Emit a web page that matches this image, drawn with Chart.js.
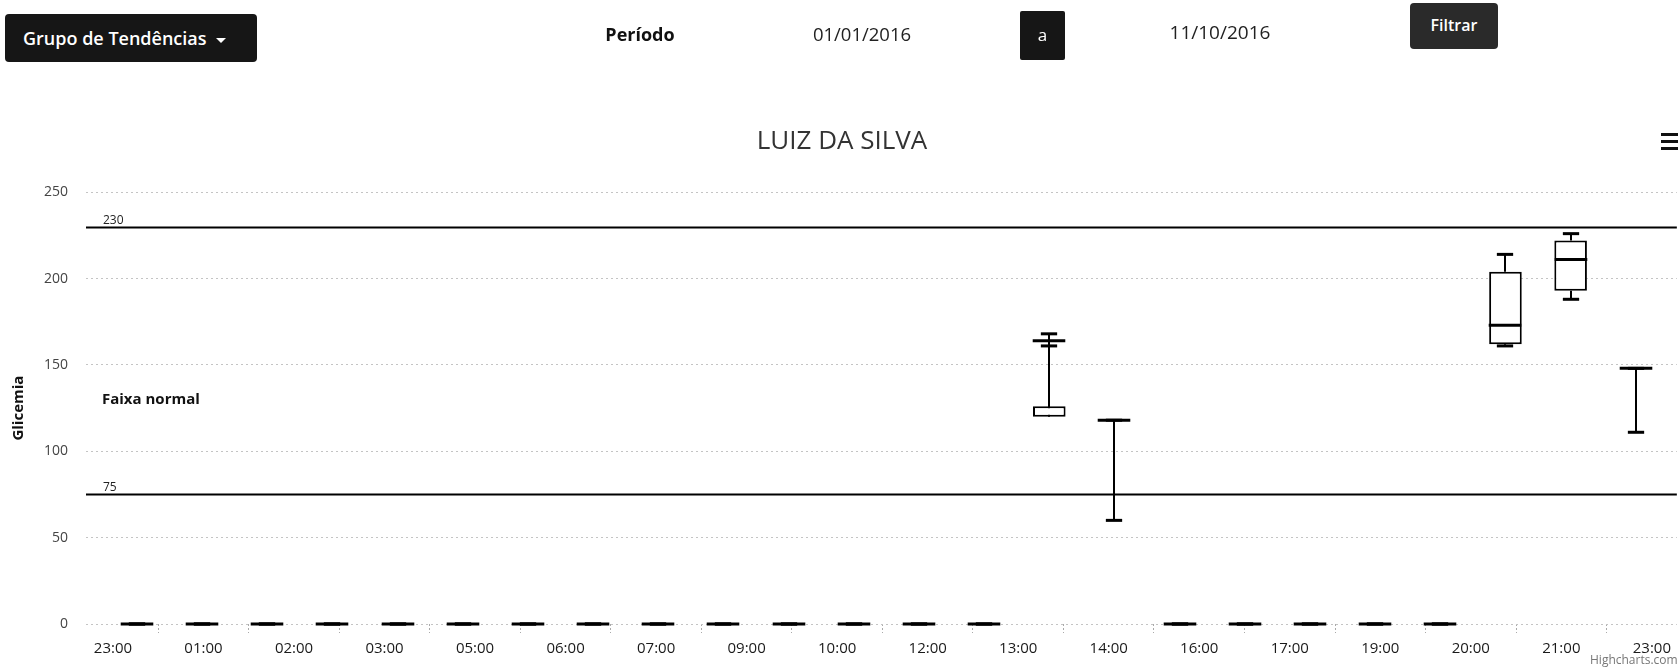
<!DOCTYPE html>
<html>

<head>
    <meta charset="utf-8" />
    <title>LUIZ DA SILVA - Glicemia</title>
    <style>
        body {
            margin: 0;
            background: #fff;
            font-family: "Open Sans", sans-serif;
            overflow: hidden;
            width: 1678px;
            height: 669px;
            position: relative;
        }

        #chart {
            position: absolute;
            left: 0;
            top: 0;
        }

        .abs {
            position: absolute;
            text-align: center;
            white-space: nowrap;
        }

        .dark {
            background: #161616;
            color: #fff;
            border-radius: 4px;
        }

        .caret {
            display: inline-block;
            width: 0;
            height: 0;
            margin-left: 9px;
            vertical-align: middle;
            border-left: 5px solid transparent;
            border-right: 5px solid transparent;
            border-top: 5px solid #fff;
        }

        .menu span {
            display: block;
            width: 22px;
            height: 3px;
            background: #111;
            margin-bottom: 4px;
        }
    </style>
    <script src="https://cdn.jsdelivr.net/npm/chart.js"></script>
</head>

<body>
    <canvas id="chart" width="1678" height="669"></canvas>

    <div class="abs dark" style="left:5px;top:14px;width:234px;padding-left:18px;text-align:left;height:48px;line-height:48px;font-size:18px;font-weight:600;">
        Grupo de Tendências<span class="caret"></span></div>
    <div class="abs" style="left:580px;top:21px;width:120px;line-height:26px;font-size:18px;font-weight:700;color:#111;">Período</div>
    <div class="abs" style="left:795px;top:21px;width:134px;line-height:26px;font-size:18.5px;color:#222;">01/01/2016</div>
    <div class="abs dark" style="left:1020px;top:11px;width:45px;height:49px;line-height:47px;font-size:17px;border-radius:2px;">a</div>
    <div class="abs" style="left:1153px;top:19px;width:134px;line-height:26px;font-size:19px;color:#222;">11/10/2016</div>
    <div class="abs dark" style="left:1410px;top:3px;width:88px;height:46px;line-height:44px;font-size:16px;font-weight:600;background:#2a2a2a;">Filtrar</div>
    <div class="abs menu" style="left:1661px;top:133px;"><span></span><span></span><span></span></div>
    <div class="abs" style="left:1590px;top:651px;font-size:12px;color:#777;text-align:left;">Highcharts.com</div>

    <script>
        // time labels shown under the axis
        const timeLabels = ['23:00', '01:00', '02:00', '03:00', '05:00', '06:00', '07:00', '09:00', '10:00',
            '12:00', '13:00', '14:00', '16:00', '17:00', '19:00', '20:00', '21:00', '23:00'];

        // box plot values, one per slot (24 slots)
        const lows = [0, 0, 0, 0, 0, 0, 0, 0, 0, 0, 0, 0, 0, 0, 161, 60, 0, 0, 0, 0, 0, 161, 188, 111];
        const q1s = [0, 0, 0, 0, 0, 0, 0, 0, 0, 0, 0, 0, 0, 0, 120, 60, 0, 0, 0, 0, 0, 162, 193, 111];
        const medians = [0, 0, 0, 0, 0, 0, 0, 0, 0, 0, 0, 0, 0, 0, 164, 118, 0, 0, 0, 0, 0, 173, 211, 148];
        const q3s = [0, 0, 0, 0, 0, 0, 0, 0, 0, 0, 0, 0, 0, 0, 126, 60, 0, 0, 0, 0, 0, 204, 222, 111];
        const highs = [0, 0, 0, 0, 0, 0, 0, 0, 0, 0, 0, 0, 0, 0, 168, 118, 0, 0, 0, 0, 0, 214, 226, 148];

        // reference lines
        const plotLines = [230, 75];
        const bandLabel = { text: 'Faixa normal', value: 130 };

        const FONT = '"Open Sans", sans-serif';

        // whiskers, medians, caps and reference lines
        const boxExtras = {
            id: 'boxExtras',
            beforeDatasetsDraw(chart) {
                const { ctx, chartArea: area, scales: { y } } = chart;
                ctx.save();
                ctx.strokeStyle = '#000';
                ctx.lineWidth = 2;
                plotLines.forEach(v => {
                    const py = Math.round(y.getPixelForValue(v)) + 0.5;
                    ctx.beginPath();
                    ctx.moveTo(area.left, py);
                    ctx.lineTo(area.right, py);
                    ctx.stroke();
                });
                // stems
                chart.getDatasetMeta(0).data.forEach((bar, i) => {
                    const x = Math.round(bar.x);
                    ctx.beginPath();
                    ctx.moveTo(x, y.getPixelForValue(q3s[i]));
                    ctx.lineTo(x, y.getPixelForValue(highs[i]));
                    ctx.moveTo(x, y.getPixelForValue(q1s[i]));
                    ctx.lineTo(x, y.getPixelForValue(lows[i]));
                    ctx.stroke();
                });
                ctx.restore();
            },
            afterDatasetsDraw(chart) {
                const { ctx, chartArea: area, scales: { y } } = chart;
                ctx.save();
                ctx.strokeStyle = '#000';
                chart.getDatasetMeta(0).data.forEach((bar, i) => {
                    const x = Math.round(bar.x), w = bar.width;
                    // median
                    ctx.lineWidth = 3;
                    let py = y.getPixelForValue(medians[i]);
                    ctx.beginPath();
                    ctx.moveTo(x - w / 2, py);
                    ctx.lineTo(x + w / 2, py);
                    ctx.stroke();
                    // caps
                    [highs[i], lows[i]].forEach(v => {
                        py = y.getPixelForValue(v);
                        ctx.beginPath();
                        ctx.moveTo(x - w / 4, py);
                        ctx.lineTo(x + w / 4, py);
                        ctx.stroke();
                    });
                });
                // plot line labels
                ctx.fillStyle = '#222';
                ctx.font = '12px ' + FONT;
                ctx.textBaseline = 'alphabetic';
                plotLines.forEach(v => {
                    ctx.fillText(String(v), area.left + 17, y.getPixelForValue(v) - 3);
                });
                ctx.font = 'bold 15px ' + FONT;
                ctx.fillStyle = '#111';
                ctx.textBaseline = 'middle';
                ctx.fillText(bandLabel.text, area.left + 16, y.getPixelForValue(bandLabel.value));
                ctx.restore();
            }
        };

        new Chart(document.getElementById('chart'), {
            type: 'bar',
            data: {
                datasets: [{
                    data: q1s.map((v, i) => ({ x: i, y: [v, q3s[i]] })),
                    backgroundColor: '#fff',
                    borderColor: '#000',
                    borderWidth: 2,
                    borderSkipped: false,
                    barPercentage: 0.5,
                    categoryPercentage: 1,
                    xAxisID: 'x'
                }]
            },
            options: {
                responsive: false,
                animation: false,
                devicePixelRatio: 1,
                layout: { padding: { left: 6, right: 0, top: 0, bottom: 0 } },
                scales: {
                    x: {
                        type: 'linear',
                        display: false,
                        offset: false,
                        min: -0.782,
                        max: 23.63
                    },
                    xt: {
                        type: 'linear',
                        position: 'bottom',
                        offset: false,
                        min: -0.298,
                        max: 17.276,
                        afterBuildTicks: s => { s.ticks = timeLabels.map((_, i) => ({ value: i })); },
                        afterFit: s => { s.height = 45; },
                        ticks: {
                            callback: v => timeLabels[v],
                            autoSkip: false,
                            maxRotation: 0,
                            padding: 7,
                            color: '#1a1a1a',
                            font: { family: FONT, size: 15 }
                        },
                        grid: {
                            drawOnChartArea: false,
                            tickLength: 9,
                            tickColor: '#aaa',
                            tickBorderDash: [2, 2]
                        },
                        border: { display: false }
                    },
                    y: {
                        min: 0,
                        max: 250,
                        afterFit: s => { s.width = 80; },
                        ticks: {
                            stepSize: 50,
                            padding: 18,
                            color: '#444',
                            font: { family: FONT, size: 14 }
                        },
                        grid: { color: '#c4c4c4', drawTicks: false },
                        border: { display: false, dash: [2, 3] },
                        title: {
                            display: true,
                            text: 'Glicemia',
                            color: '#111',
                            font: { family: FONT, size: 15, weight: 'bold' }
                        }
                    }
                },
                plugins: {
                    legend: { display: false },
                    tooltip: { enabled: false },
                    title: {
                        display: true,
                        text: 'LUIZ DA SILVA',
                        color: '#333',
                        font: { family: FONT, size: 26, weight: 'normal' },
                        padding: { top: 126, bottom: 35 }
                    }
                }
            },
            plugins: [boxExtras]
        });
    </script>
</body>

</html>
